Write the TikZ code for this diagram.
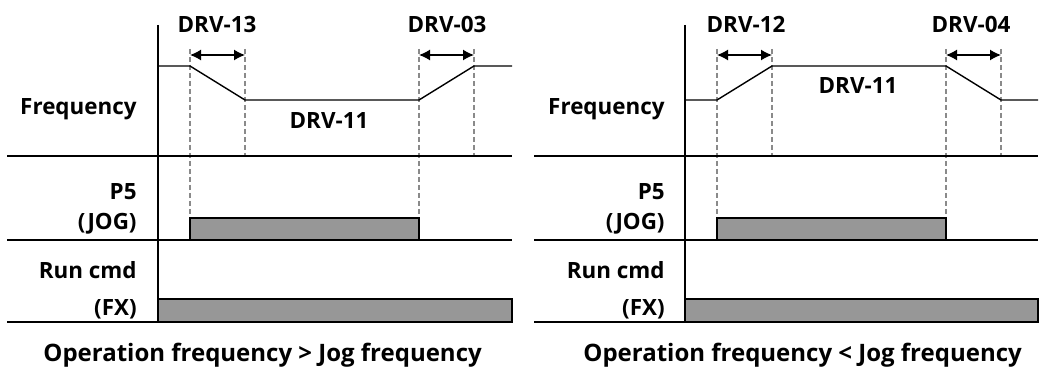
\documentclass[tikz,border=0pt]{standalone}
\usepackage{fontspec}
\setmainfont{Open Sans}
\usetikzlibrary{arrows.meta}

\definecolor{pulsegray}{HTML}{979797}
\definecolor{guidegray}{HTML}{8A8A8A}

\tikzset{
    axis/.style={line width=1pt},
    sig/.style={line width=0.7pt},
    guide/.style={guidegray, line width=0.6pt, dash pattern=on 2.5pt off 1.5pt},
    span/.style={line width=0.7pt, {Latex[length=5.5pt,width=5.5pt]}-{Latex[length=5.5pt,width=5.5pt]}},
    pulse/.style={draw, line width=0.8pt, fill=pulsegray},
    lbl/.style={font=\fontsize{11.2}{13}\selectfont\bfseries, inner sep=0pt},
    captxt/.style={font=\fontsize{12}{15}\selectfont\bfseries, inner sep=0pt},
}

\begin{document}
\begin{tikzpicture}[x=0.5pt,y=-0.5pt]
    \useasboundingbox (0,0) rectangle (1041,369);

    % left panel: operation frequency above jog frequency
    \begin{scope}[shift={(158,0)}]
        \coordinate (ta) at (32,55);
        \coordinate (tb) at (87,55);
        \coordinate (tc) at (261,55);
        \coordinate (td) at (316,55);

        \draw[guide] (32,49) -- (32,218)
                     (87,49) -- (87,156)
                     (261,49) -- (261,218)
                     (316,49) -- (316,156);

        \path[pulse] (32,218) rectangle (261,240);
        \path[pulse] (0,299) rectangle (354,322);

        \draw[axis] (0,25) -- (0,322);
        \draw[axis] (-151,156) -- (354,156)
                    (-151,240) -- (354,240)
                    (-151,322) -- (354,322);

        \draw[sig] (0,66) -- (32,66) -- (87,100) -- (261,100) -- (316,66) -- (354,66);

        \draw[span] (ta) -- (tb);
        \draw[span] (tc) -- (td);

        \node[lbl, anchor=base] (decL) at (59,33) {DRV-13};
        \node[lbl, anchor=base] (accL) at (289,33) {DRV-03};
        \node[lbl, anchor=base] (jogL) at (171,129) {DRV-11};

        \node[lbl, anchor=base east] (freqL) at (-21,115) {Frequency};
        \node[lbl, anchor=base east] (pL) at (-21,200) {P5};
        \node[lbl, anchor=base east] (pjL) at (-21,230) {(JOG)};
        \node[lbl, anchor=base east] (runL) at (-21,279) {Run cmd};
        \node[lbl, anchor=base east] (fxL) at (-21,315) {(FX)};

        \node[captxt, anchor=base west] (capL) at (-115,362) {Operation frequency > Jog frequency};
    \end{scope}

    % right panel: operation frequency below jog frequency
    \begin{scope}[shift={(685,0)}]
        \coordinate (ua) at (32,55);
        \coordinate (ub) at (87,55);
        \coordinate (uc) at (261,55);
        \coordinate (ud) at (316,55);

        \draw[guide] (32,49) -- (32,218)
                     (87,49) -- (87,156)
                     (261,49) -- (261,218)
                     (316,49) -- (316,156);

        \path[pulse] (32,218) rectangle (261,240);
        \path[pulse] (0,299) rectangle (353,322);

        \draw[axis] (0,25) -- (0,322);
        \draw[axis] (-151,156) -- (353,156)
                    (-151,240) -- (353,240)
                    (-151,322) -- (353,322);

        \draw[sig] (0,100) -- (32,100) -- (87,66) -- (261,66) -- (316,100) -- (353,100);

        \draw[span] (ua) -- (ub);
        \draw[span] (uc) -- (ud);

        \node[lbl, anchor=base] (accR) at (61,33) {DRV-12};
        \node[lbl, anchor=base] (decR) at (286,33) {DRV-04};
        \node[lbl, anchor=base] (jogR) at (173,94) {DRV-11};

        \node[lbl, anchor=base east] (freqR) at (-20,115) {Frequency};
        \node[lbl, anchor=base east] (pR) at (-20,200) {P5};
        \node[lbl, anchor=base east] (pjR) at (-20,230) {(JOG)};
        \node[lbl, anchor=base east] (runR) at (-20,279) {Run cmd};
        \node[lbl, anchor=base east] (fxR) at (-20,315) {(FX)};

        \node[captxt, anchor=base west] (capR) at (-102,362) {Operation frequency < Jog frequency};
    \end{scope}
\end{tikzpicture}
\end{document}
